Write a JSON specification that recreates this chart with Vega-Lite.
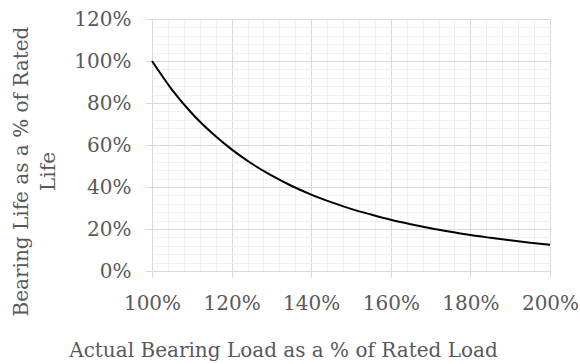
{
  "$schema": "https://vega.github.io/schema/vega-lite/v6.json",
  "autosize": "none",
  "padding": {"left": 152, "top": 19, "right": 30, "bottom": 93},
  "width": 398,
  "height": 252,
  "background": "white",
  "config": {
    "view": {"stroke": null},
    "font": "DejaVu Serif",
    "axis": {
      "labelFont": "DejaVu Serif",
      "titleFont": "DejaVu Serif",
      "labelFontSize": 20,
      "titleFontSize": 20,
      "labelColor": "#595959",
      "titleColor": "#595959",
      "titleFontWeight": "normal",
      "labelFlush": false,
      "labelBound": false,
      "labelOverlap": false
    }
  },
  "data": {
    "values": [
      {"load": 1.00, "life": 1.000},
      {"load": 1.05, "life": 0.864},
      {"load": 1.10, "life": 0.751},
      {"load": 1.15, "life": 0.658},
      {"load": 1.20, "life": 0.579},
      {"load": 1.25, "life": 0.512},
      {"load": 1.30, "life": 0.455},
      {"load": 1.35, "life": 0.406},
      {"load": 1.40, "life": 0.364},
      {"load": 1.45, "life": 0.328},
      {"load": 1.50, "life": 0.296},
      {"load": 1.55, "life": 0.269},
      {"load": 1.60, "life": 0.244},
      {"load": 1.65, "life": 0.223},
      {"load": 1.70, "life": 0.204},
      {"load": 1.75, "life": 0.187},
      {"load": 1.80, "life": 0.171},
      {"load": 1.85, "life": 0.158},
      {"load": 1.90, "life": 0.146},
      {"load": 1.95, "life": 0.135},
      {"load": 2.00, "life": 0.125}
    ]
  },
  "layer": [
    {
      "mark": {"type": "line", "opacity": 0},
      "encoding": {
        "x": {
          "field": "load", "type": "quantitative",
          "scale": {"domain": [1, 2], "nice": false, "zero": false},
          "axis": {
            "orient": "bottom",
            "values": [1.04,1.08,1.12,1.16,1.24,1.28,1.32,1.36,1.44,1.48,1.52,1.56,1.64,1.68,1.72,1.76,1.84,1.88,1.92,1.96],
            "grid": true, "gridColor": "#f0f0f0", "gridWidth": 1,
            "labels": false, "ticks": false, "domain": false, "title": null
          }
        },
        "y": {
          "field": "life", "type": "quantitative",
          "scale": {"domain": [0, 1.2], "nice": false},
          "axis": {
            "orient": "left",
            "values": [0.04,0.08,0.12,0.16,0.24,0.28,0.32,0.36,0.44,0.48,0.52,0.56,0.64,0.68,0.72,0.76,0.84,0.88,0.92,0.96,1.04,1.08,1.12,1.16],
            "grid": true, "gridColor": "#f0f0f0", "gridWidth": 1,
            "labels": false, "ticks": false, "domain": false, "title": null
          }
        }
      }
    },
    {
      "mark": {"type": "line", "color": "black", "strokeWidth": 2, "interpolate": "monotone"},
      "encoding": {
        "x": {
          "field": "load", "type": "quantitative",
          "scale": {"domain": [1, 2], "nice": false, "zero": false},
          "axis": {
            "orient": "bottom",
            "values": [1.0, 1.2, 1.4, 1.6, 1.8, 2.0],
            "format": ".0%",
            "grid": true, "gridColor": "#d9d9d9", "gridWidth": 1,
            "domain": false,
            "ticks": true, "tickColor": "#d9d9d9", "tickSize": 6,
            "labelPadding": 16,
            "title": "Actual Bearing Load as a % of Rated Load",
            "titleX": 131,
            "titleY": 69,
            "titleBaseline": "top"
          }
        },
        "y": {
          "field": "life", "type": "quantitative",
          "scale": {"domain": [0, 1.2], "nice": false},
          "axis": {
            "orient": "left",
            "values": [0, 0.2, 0.4, 0.6, 0.8, 1.0, 1.2],
            "format": ".0%",
            "grid": true, "gridColor": "#d9d9d9", "gridWidth": 1,
            "domain": false,
            "ticks": true, "tickColor": "#d9d9d9", "tickSize": 7,
            "labelPadding": 14,
            "title": ["Bearing Life as a % of Rated", "Life"],
            "titleX": -121,
            "titleY": 152,
            "titleLineHeight": 27
          }
        }
      }
    }
  ],
  "resolve": {"axis": {"x": "independent", "y": "independent"}}
}
